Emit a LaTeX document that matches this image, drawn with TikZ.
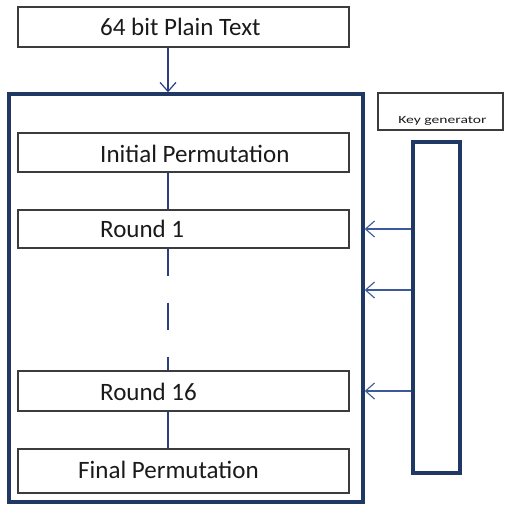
\documentclass[tikz,border=0pt]{standalone}
\usepackage{fontspec}
\setmainfont{Carlito}
\usetikzlibrary{arrows.meta}
\definecolor{navy}{HTML}{1F3864}
\definecolor{linkblue}{HTML}{2B3F80}
\definecolor{arrowblue}{HTML}{3A5A9C}
\definecolor{boxgray}{HTML}{3C3C3C}
\definecolor{ink}{HTML}{1A1A1A}
\tikzset{
  stagebox/.style={draw=boxgray, line width=1.4pt, rectangle, inner sep=0pt, minimum width=331pt},
  heavybox/.style={draw=navy, line width=3.4pt, rectangle, inner sep=0pt},
  lbl/.style={anchor=base west, inner sep=0pt, text=ink, font=\fontsize{25}{28}\selectfont},
  link/.style={draw=linkblue, line width=1.2pt},
  keyarrow/.style={draw=arrowblue, line width=1.1pt, -{Straight Barb[length=9pt,width=16pt,line width=1.1pt]}}
}
\begin{document}
\begin{tikzpicture}[x=1pt, y=-1pt]
  \useasboundingbox (0,0) rectangle (505,504);
  \fill[white] (0,0) rectangle (505,504);

  % input block and the enclosing cipher frame
  \node[stagebox, minimum height=40pt] (plain) at (183.5,27) {};
  \node[lbl] (plaint) at (100,35) {64 bit Plain Text};
  \node[heavybox, minimum width=354pt, minimum height=408pt] (frame) at (186,298) {};

  % stages inside the frame
  \node[stagebox, minimum height=39pt] (init) at (183.5,152.5) {};
  \node[lbl] (initt) at (100,162) {Initial Permutation};
  \node[stagebox, minimum height=38pt] (r1) at (183.5,229) {};
  \node[lbl] (r1t) at (100,237) {Round 1};
  \node[stagebox, minimum height=40pt] (r16) at (183.5,391) {};
  \node[lbl] (r16t) at (100,400) {Round 16};
  \node[stagebox, minimum height=44pt] (final) at (183.5,471) {};
  \node[lbl] (finalt) at (78,478) {Final Permutation};

  % key generator
  \node[draw=boxgray, line width=1.4pt, rectangle, inner sep=0pt, minimum width=125pt, minimum height=37pt] (kg) at (440.5,111.5) {};
  \node[anchor=base west, inner sep=0pt, text=ink, xscale=1.42, font=\fontsize{11}{12}\selectfont] (kgt) at (398,123) {Key generator};
  \node[heavybox, minimum width=47pt, minimum height=331pt] (keys) at (436.5,307.5) {};

  % vertical flow
  \coordinate (axis) at (168,0);
  \coordinate (kmid) at (400,290);
  \draw[link, -{Straight Barb[length=9pt,width=16pt,line width=1.2pt]}] (plain.south -| axis) -- (frame.north -| axis);
  \draw[link] (init.south -| axis) -- (r1.north -| axis);
  \draw[link, dash pattern=on 27pt off 27pt] (r1.south -| axis) -- (r16.north -| axis);
  \draw[link] (r16.south -| axis) -- (final.north -| axis);

  % round keys fed into the frame
  \draw[keyarrow] (keys.west |- r1.center) -- (frame.east |- r1.center);
  \draw[keyarrow] (keys.west |- kmid) -- (frame.east |- kmid);
  \draw[keyarrow] (keys.west |- r16.center) -- (frame.east |- r16.center);
\end{tikzpicture}
\end{document}
